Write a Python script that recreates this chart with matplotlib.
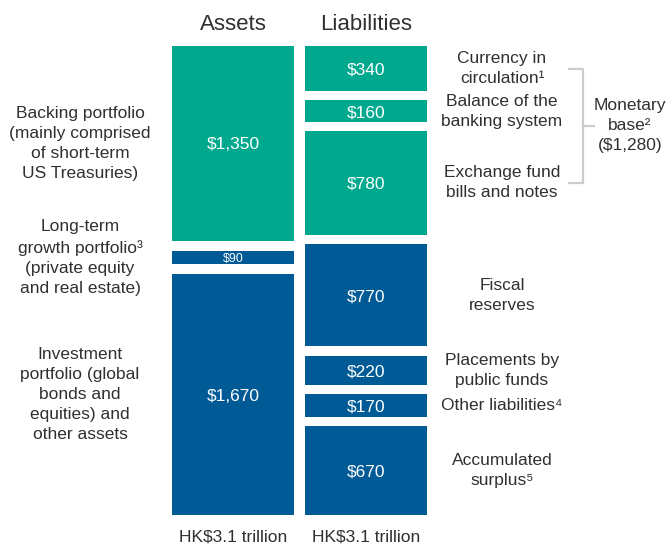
import numpy as np
import matplotlib
matplotlib.use("Agg")
import matplotlib.pyplot as plt
from matplotlib.transforms import blended_transform_factory
from matplotlib.lines import Line2D

plt.rcParams['font.family'] = ['Liberation Sans', 'DejaVu Sans']

# HK$ billion
asset_values = [1350, 90, 1670]
asset_in_base = [True, False, False]
asset_labels = [
    "Backing portfolio\n(mainly comprised\nof short-term\nUS Treasuries)",
    "Long-term\ngrowth portfolio³\n(private equity\nand real estate)",
    "Investment\nportfolio (global\nbonds and\nequities) and\nother assets",
]

liab_values = [340, 160, 780, 770, 220, 170, 670]
liab_in_base = [True, True, True, False, False, False, False]
liab_labels = [
    "Currency in\ncirculation¹",
    "Balance of the\nbanking system",
    "Exchange fund\nbills and notes",
    "Fiscal\nreserves",
    "Placements by\npublic funds",
    "Other liabilities⁴",
    "Accumulated\nsurplus⁵",
]

monetary_base = 1280
column_titles = ["Assets", "Liabilities"]
column_totals = ["HK$3.1 trillion", "HK$3.1 trillion"]

teal = "#00a88e"
blue = "#005a96"
txt = "#303030"
gap = 70
fs = 12.5
ls = 1.42

W, H = 670, 546
fig = plt.figure(figsize=(W / 100, H / 100), dpi=100)


def px_axes(x0, y0, x1, y1):
    return fig.add_axes([x0 / W, 1 - y1 / H, (x1 - x0) / W, (y1 - y0) / H])


def draw_column(ax, values, in_base, title, total):
    values = np.array(values, dtype=float)
    starts = np.concatenate([[0], np.cumsum(values[:-1] + gap)])
    colors = [teal if b else blue for b in in_base]
    ax.bar(0, values, bottom=starts, width=1, color=colors, align='center')
    ax.set_xlim(-0.5, 0.5)
    ymax = starts[-1] + values[-1]
    ax.set_ylim(ymax, 0)
    ax.axis('off')
    px_per_unit = ax.get_position().height * H / ymax
    centers = starts + values / 2
    for v, c in zip(values, centers):
        size = min(fs, v * px_per_unit * 0.95 * 72 / 100)
        ax.text(0, c, f"${v:,.0f}", ha='center', va='center_baseline',
                color='white', fontsize=size)
    ax.text(0.5, 1.045, title, transform=ax.transAxes, ha='center',
            va='center', fontsize=16, color=txt)
    ax.text(0.5, -0.047, total, transform=ax.transAxes, ha='center',
            va='center', fontsize=fs, color=txt)
    return centers


ax_a = px_axes(172, 46, 294, 515)
ax_l = px_axes(305, 46, 427, 515)

a_centers = draw_column(ax_a, asset_values, asset_in_base, column_titles[0], column_totals[0])
l_centers = draw_column(ax_l, liab_values, liab_in_base, column_titles[1], column_totals[1])

tr_a = blended_transform_factory(fig.transFigure, ax_a.transData)
tr_l = blended_transform_factory(fig.transFigure, ax_l.transData)

for lab, c in zip(asset_labels, a_centers):
    fig.text(80 / W, c, lab, transform=tr_a, ha='center', va='center',
             fontsize=fs, color=txt, linespacing=ls)

for lab, c in zip(liab_labels, l_centers):
    fig.text(502 / W, c, lab, transform=tr_l, ha='center', va='center',
             fontsize=fs, color=txt, linespacing=ls)

# bracket for monetary base
top, bot = l_centers[0], l_centers[2]
mid = (top + bot) / 2
xl, xv, xr = 569 / W, 583 / W, 594 / W
bracket = dict(color="#cccccc", lw=1.6, transform=tr_l)
fig.add_artist(Line2D([xl, xv, xv, xl], [top, top, bot, bot], **bracket))
fig.add_artist(Line2D([xv, xr], [mid, mid], **bracket))
fig.text(630 / W, mid, f"Monetary\nbase²\n(${monetary_base:,})", transform=tr_l,
         ha='center', va='center', fontsize=fs, color=txt, linespacing=ls)

fig.savefig("out.png", dpi=100)
